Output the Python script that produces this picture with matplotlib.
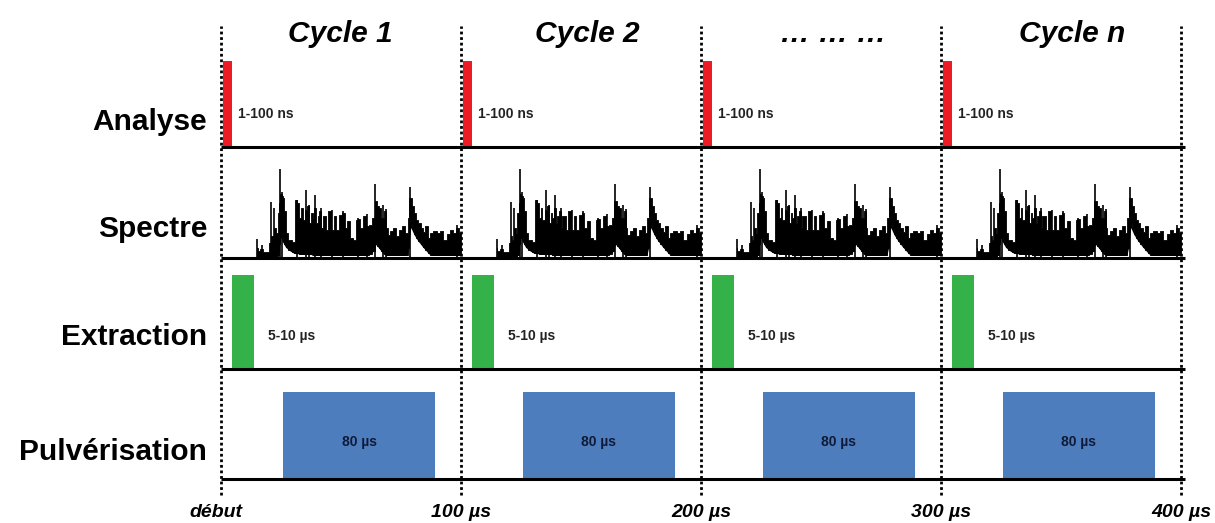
import numpy as np
import matplotlib
matplotlib.use("Agg")
import matplotlib.pyplot as plt

plt.rcParams['font.family'] = ['Liberation Sans', 'DejaVu Sans']

# cycles (µs)
cycle_starts = [0, 100, 200, 300]
boundaries = [0, 100, 200, 300, 400]
bottom_labels = ['début', '100 µs', '200 µs', '300 µs', '400 µs']
cycle_titles = ['Cycle 1', 'Cycle 2', '… … …', 'Cycle n']
title_pos = [49.6, 152.5, 255.0, 354.6]

row_names = ['Pulvérisation', 'Extraction', 'Spectre', 'Analyse']

# pulses, drawn widths (µs) relative to cycle start
analyse_start, analyse_width, analyse_height = 0.8, 3.7, 0.78
extract_start, extract_width, extract_height = 4.6, 9.2, 0.85
pulv_start, pulv_width, pulv_height = 25.8, 63.4, 0.79
analyse_label = '1-100 ns'
extract_label = '5-10 µs'
pulv_label = '80 µs'

# spectrum of one cycle (t in µs, intensity in a.u.)
spec_t = [14.88, 15.54, 16.96, 18.33, 19.71, 20.42, 21.13, 21.79, 22.5, 23.21,
          23.88, 24.38, 24.88, 25.54, 25.96, 26.67, 27.38, 28.75, 30.13, 30.83,
          31.13, 32.08, 32.92, 33.63, 34.29, 35.42, 36.38, 37.08, 37.79, 38.46,
          39.17, 39.88, 40.54, 41.25, 41.96, 42.63, 43.33, 44.04, 45.42, 46.38,
          47.5, 48.63, 49.58, 50.96, 51.96, 53.04, 54.46, 55.83, 56.54, 57.21,
          58.63, 60.0, 61.13, 62.08, 63.46, 64.46, 65.54, 66.25, 67.21, 68.33,
          69.04, 69.71, 71.13, 72.5, 73.63, 74.58, 75.96, 77.38, 78.04, 79.04,
          79.88, 80.83, 81.79, 82.63, 83.63, 84.58, 85.71, 86.79, 87.79, 89.17,
          90.54, 91.96, 93.33, 94.71, 96.13, 97.5, 98.46, 100.0]
spec_upper = [10, 7, 9, 6, 6, 15, 22, 18, 30, 25,
              45, 55, 64, 62, 60, 47, 25, 18, 16, 16,
              58, 55, 40, 50, 38, 48, 52, 35, 45, 40,
              50, 35, 42, 47, 30, 42, 42, 28, 47, 28,
              42, 28, 43, 45, 30, 37, 20, 18, 38, 39,
              30, 42, 32, 33, 40, 57, 52, 50, 40, 47,
              30, 23, 27, 30, 22, 28, 32, 25, 40, 60,
              52, 45, 38, 35, 30, 26, 32, 20, 25, 27,
              25, 27, 18, 24, 28, 25, 30, 25]
spec_lower = [0, 1, 1, 1, 1, 2, 2, 2, 2, 2,
              3, 14, 24, 20, 17, 14, 11, 8, 6, 5,
              5, 5, 4, 4, 4, 4, 4, 4, 4, 3,
              3, 3, 3, 3, 3, 3, 3, 3, 3, 3,
              3, 3, 3, 3, 3, 3, 3, 3, 3, 3,
              3, 3, 3, 4, 7, 15, 12, 10, 7, 4,
              3, 3, 3, 3, 3, 3, 3, 3, 10, 33,
              29, 24, 20, 17, 14, 11, 8, 5, 3, 3,
              3, 3, 3, 3, 3, 3, 3, 3]
spike_t = [14.9, 17.1, 20.7, 22.1, 24.6, 25.5, 31.5, 35.4, 36.8, 39.2, 41.5,
           46.1, 50.7, 57.2, 60.7, 64.2, 67.4, 68.75, 78.75, 98.2]
spike_h = [19, 13, 56, 50, 89, 66, 58, 68, 53, 63, 50,
           48, 47, 40, 44, 74, 53, 49, 71, 33]
spec_scale = 1 / 110.7

fig = plt.figure(figsize=(12.15, 5.23), dpi=100)
ax = fig.add_axes([0, 0, 1, 1])
ax.set_xlim(-92.1, 414.2)
ax.set_ylim(-0.393, 4.332)
ax.axis('off')

red, green, blue = '#ED1C24', '#35B14A', '#4E7DBE'

# dotted cycle boundaries
for b, lab in zip(boundaries, bottom_labels):
    ax.plot([b, b], [-0.14, 4.1], color='black', lw=2,
            linestyle=(0, (1.0, 1.0)), dash_capstyle='butt', zorder=4)
    ax.text(b - (2 if lab == 'début' else 0), -0.34, lab, ha='center', va='baseline',
            fontsize=14, fontweight='bold', fontstyle='italic')

# row lines and labels
for i, name in enumerate(row_names):
    ax.plot([0, 401.7], [i, i], color='black', lw=2.2, solid_capstyle='butt', zorder=3)
label_base = [0.176, 1.215, 2.19, 3.157]
for name, yb in zip(row_names, label_base):
    ax.text(-5.8, yb, name, ha='right', va='baseline', fontsize=21.5, fontweight='bold')

for t, title in zip(title_pos, cycle_titles):
    ax.text(t, 3.95, title, ha='center', va='baseline', fontsize=21.5,
            fontweight='bold', fontstyle='italic')

sp_t = np.array(spec_t)
up = 2 + np.array(spec_upper) * spec_scale
lo = 2 + np.array(spec_lower) * spec_scale
for c in cycle_starts:
    # analyse pulse
    ax.bar(c + analyse_start, analyse_height, width=analyse_width, bottom=3,
           align='edge', color=red, zorder=2)
    ax.text(c + 7.1, 3.30, analyse_label, ha='left', va='center', fontsize=10,
            fontweight='bold', color='#222222')
    # extraction pulse
    ax.bar(c + extract_start, extract_height, width=extract_width, bottom=1,
           align='edge', color=green, zorder=2)
    ax.text(c + 19.6, 1.30, extract_label, ha='left', va='center', fontsize=10,
            fontweight='bold', color='#222222')
    # pulverisation
    ax.bar(c + pulv_start, pulv_height, width=pulv_width, bottom=0,
           align='edge', color=blue, zorder=2)
    ax.text(c + pulv_start + pulv_width / 2, 0.34, pulv_label, ha='center', va='center',
            fontsize=10, fontweight='bold', color='#0f1a36')
    # spectrum
    ax.fill_between(c + sp_t, lo, up, step='mid', color='black', lw=0.6,
                    edgecolor='black', zorder=2)
    ax.plot(c + sp_t, lo, color='black', lw=1.2, zorder=2)
    ax.vlines(c + np.array(spike_t), 2, 2 + np.array(spike_h) * spec_scale,
              color='black', lw=1.2, zorder=2)

fig.savefig('out.png', dpi=100)
